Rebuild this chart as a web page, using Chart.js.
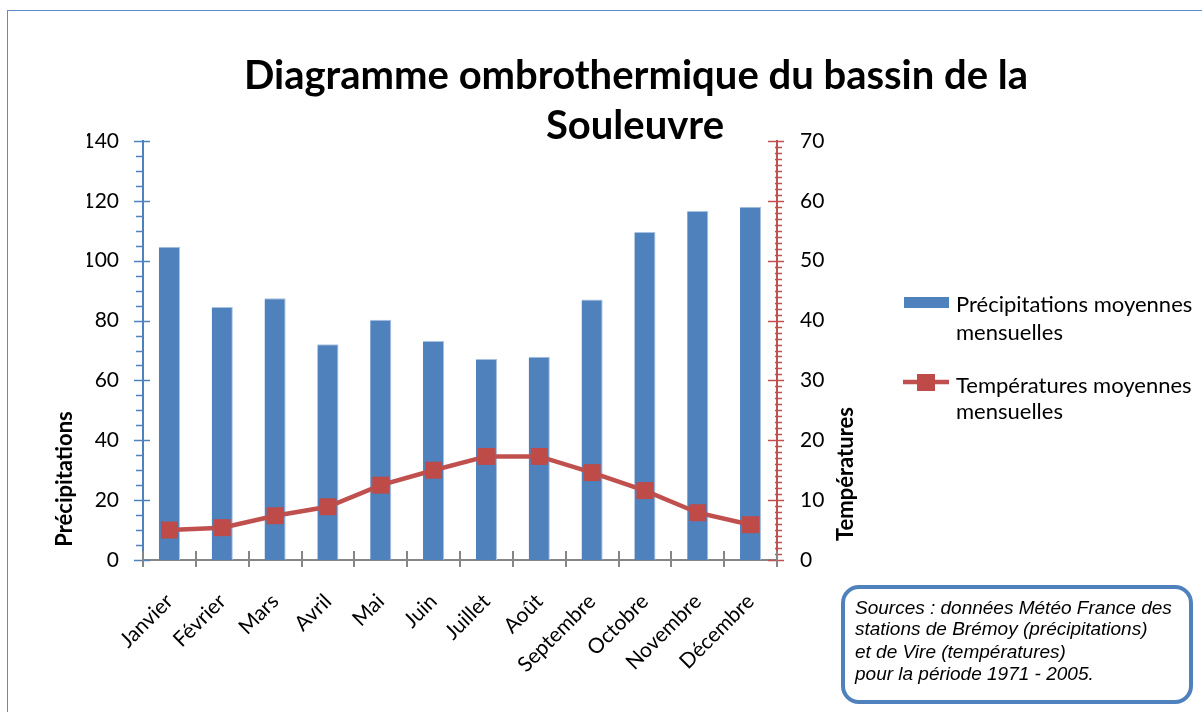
<!DOCTYPE html>
<html lang="fr">
<head>
<meta charset="utf-8">
<title>Diagramme ombrothermique du bassin de la Souleuvre</title>
<script src="https://cdn.jsdelivr.net/npm/chart.js@4.4.1/dist/chart.umd.min.js"></script>
<style>
  html, body { margin: 0; padding: 0; background: #fff; }
  #wrap { position: relative; width: 1202px; height: 712px; overflow: hidden; }
  #frame { position: absolute; left: 7px; top: 10px; width: 1300px; height: 800px;
           border-left: 1px solid #5b8bc9; border-top: 1px solid #5b8bc9; }
  canvas { position: absolute; left: 0; top: 0; }
</style>
</head>
<body>
<div id="wrap">
  <div id="frame"></div>
  <canvas id="chart" width="1202" height="712"></canvas>
</div>
<script>
const months = ["Janvier", "Février", "Mars", "Avril", "Mai", "Juin", "Juillet",
  "Août", "Septembre", "Octobre", "Novembre", "Décembre"];
const precipitations = [104.7, 84.5, 87.5, 72.1, 80.3, 73.2, 67.2, 67.9, 87.0, 109.6, 116.6, 118.0];
const temperatures = [5.0, 5.4, 7.4, 8.9, 12.5, 15.0, 17.3, 17.3, 14.6, 11.6, 7.9, 5.9];
const precipTicks = [0, 20, 40, 60, 80, 100, 120, 140];
const tempTicks = [0, 10, 20, 30, 40, 50, 60, 70];

const titleLines = ["Diagramme ombrothermique du bassin de la", "Souleuvre"];
const legendLabels = [
  ["Précipitations moyennes", "mensuelles"],
  ["Températures moyennes", "mensuelles"]
];
const sourceLines = [
  "Sources : données Météo France des",
  "stations de Brémoy (précipitations)",
  "et de Vire (températures)",
  "pour la période 1971 - 2005."
];

const BLUE = "#4f81bd";
const RED = "#c0504d";
const GREY = "#868686";
const FONT = "Lato, 'Open Sans', sans-serif";

Chart.defaults.font.family = FONT;
Chart.defaults.color = "#000";

// graduations, titres, légende et encadré des sources
const decor = {
  id: "decor",
  afterDatasetsDraw(chart) {
    const { ctx, scales: { x, y, y2 } } = chart;
    ctx.save();
    ctx.lineWidth = 1.5;

    // axe gauche : majeures tous les 20, mineures tous les 5
    ctx.strokeStyle = BLUE;
    for (let v = 0; v <= 140; v += 5) {
      const py = Math.round(y.getPixelForValue(v)) + 0.5;
      const major = v % 20 === 0;
      ctx.beginPath();
      ctx.moveTo(x.left - (major ? 9 : 7), py);
      ctx.lineTo(x.left + (major ? 7 : 0), py);
      ctx.stroke();
    }

    // axe droit : majeures tous les 10, mineures tous les 1
    ctx.strokeStyle = RED;
    for (let v = 0; v <= 70; v += 1) {
      const py = Math.round(y2.getPixelForValue(v)) + 0.5;
      const major = v % 10 === 0;
      ctx.beginPath();
      ctx.moveTo(x.right - (major ? 9 : 2), py);
      ctx.lineTo(x.right + (major ? 7 : 5), py);
      ctx.stroke();
    }

    // axe des abscisses : traits entre les catégories
    ctx.strokeStyle = GREY;
    ctx.lineWidth = 2;
    for (let i = 0; i <= months.length; i++) {
      const px = Math.round(x.getPixelForValue(i - 0.5));
      ctx.beginPath();
      ctx.moveTo(px, y.bottom - 9);
      ctx.lineTo(px, y.bottom + 7);
      ctx.stroke();
    }
    ctx.restore();
  },
  afterDraw(chart) {
    const { ctx } = chart;
    const bars = chart.data.datasets.find(d => d.type === "bar");
    const line = chart.data.datasets.find(d => d.type === "line");
    ctx.save();

    // titre
    ctx.fillStyle = "#000";
    ctx.textAlign = "center";
    ctx.textBaseline = "alphabetic";
    ctx.font = "bold 40px " + FONT;
    ctx.fillText(titleLines[0], 636, 89);
    ctx.fillText(titleLines[1], 635, 139);

    // titres des axes
    ctx.font = "bold 22px " + FONT;
    ctx.textBaseline = "middle";
    ctx.save();
    ctx.translate(65, 479);
    ctx.rotate(-Math.PI / 2);
    ctx.fillText("Précipitations", 0, 0);
    ctx.restore();
    ctx.save();
    ctx.translate(846, 474);
    ctx.rotate(-Math.PI / 2);
    ctx.fillText("Températures", 0, 0);
    ctx.restore();

    // légende
    ctx.textAlign = "left";
    ctx.font = "22px " + FONT;
    ctx.fillStyle = bars.backgroundColor;
    ctx.fillRect(904, 297, 45, 11);
    ctx.strokeStyle = line.borderColor;
    ctx.lineWidth = 4.5;
    ctx.beginPath();
    ctx.moveTo(903, 382);
    ctx.lineTo(949, 382);
    ctx.stroke();
    ctx.fillStyle = line.pointBackgroundColor;
    ctx.fillRect(917, 374, 18, 17);
    ctx.fillStyle = "#000";
    ctx.fillText(legendLabels[0][0], 956, 305);
    ctx.fillText(legendLabels[0][1], 956, 333);
    ctx.fillText(legendLabels[1][0], 956, 386);
    ctx.fillText(legendLabels[1][1], 956, 412);

    // encadré des sources
    ctx.strokeStyle = BLUE;
    ctx.lineWidth = 4;
    ctx.beginPath();
    ctx.roundRect(843, 587, 348, 115, 16);
    ctx.stroke();
    ctx.font = "italic 19px 'Liberation Sans', Arial, sans-serif";
    const ys = [609, 630, 653, 675];
    sourceLines.forEach((t, i) => ctx.fillText(t, 855, ys[i]));

    ctx.restore();
  }
};

new Chart(document.getElementById("chart"), {
  data: {
    labels: months,
    datasets: [
      {
        type: "line",
        label: "Températures moyennes mensuelles",
        data: temperatures,
        yAxisID: "y2",
        borderColor: RED,
        borderWidth: 4.5,
        pointStyle: "rect",
        pointRadius: 12,
        pointBackgroundColor: "#be4b48",
        pointBorderColor: "#be4b48",
        pointBorderWidth: 0,
        tension: 0,
        order: 1
      },
      {
        type: "bar",
        label: "Précipitations moyennes mensuelles",
        data: precipitations,
        yAxisID: "y",
        backgroundColor: BLUE,
        borderColor: "#a9c1e0",
        borderWidth: { top: 1, right: 1, left: 0, bottom: 0 },
        categoryPercentage: 1,
        barPercentage: 0.4,
        order: 2
      }
    ]
  },
  options: {
    responsive: false,
    animation: false,
    layout: { padding: { left: 87, right: 365, top: 141, bottom: 0 } },
    plugins: {
      legend: { display: false },
      title: { display: false },
      tooltip: { enabled: false }
    },
    scales: {
      x: {
        offset: true,
        grid: { display: false, drawTicks: false },
        border: { color: GREY, width: 2 },
        ticks: { maxRotation: 45, minRotation: 45, autoSkip: false, padding: 29, font: { size: 21 } },
        afterFit: s => { s.height = 152; }
      },
      y: {
        position: "left",
        min: 0,
        max: 140,
        grid: { display: false, drawTicks: false },
        border: { color: BLUE, width: 2 },
        ticks: { padding: 24, font: { size: 21 } },
        afterBuildTicks: s => { s.ticks = precipTicks.map(v => ({ value: v })); },
        afterFit: s => { s.width = 56; }
      },
      y2: {
        position: "right",
        min: 0,
        max: 70,
        grid: { display: false, drawTicks: false },
        border: { color: RED, width: 2 },
        ticks: { padding: 23, font: { size: 21 } },
        afterBuildTicks: s => { s.ticks = tempTicks.map(v => ({ value: v })); },
        afterFit: s => { s.width = 60; }
      }
    }
  },
  plugins: [decor]
});
</script>
</body>
</html>
